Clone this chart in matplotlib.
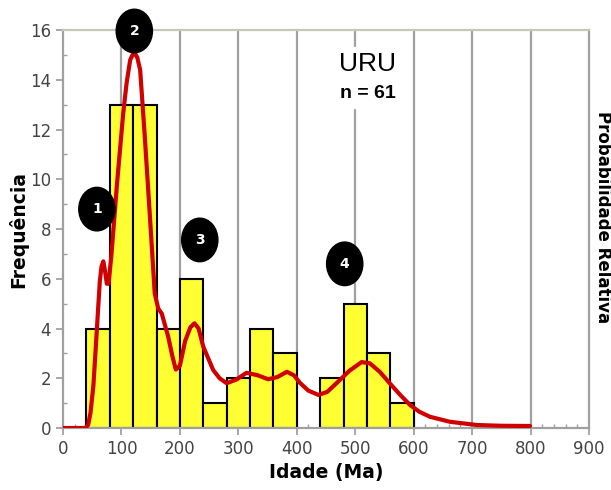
import matplotlib.pyplot as plt
import matplotlib.patches as patches
from matplotlib.ticker import MultipleLocator

plt.rcParams['font.family'] = ['DejaVu Sans']

# histograma (bins de 40 Ma)
bin_left = [40, 80, 120, 160, 200, 240, 280, 320, 360, 440, 480, 520, 560]
freq = [4, 13, 13, 4, 6, 1, 2, 4, 3, 2, 5, 3, 1]
bin_width = 40

# curva de probabilidade relativa (em escala de frequência)
curve_x = [0, 38, 43, 47, 52, 57, 63, 66, 69, 72, 75, 78, 83, 92, 103, 109,
           115, 119, 123, 127, 132, 140, 149, 157, 163, 169, 180, 187, 193, 200,
           209, 218, 225, 232, 240, 257, 268, 280, 297, 314, 333, 351, 367, 383,
           395, 406, 420, 437, 452, 468, 490, 511, 525, 542, 559, 577, 594, 610,
           628, 662, 708, 750, 799]
curve_y = [0, 0, 0.12, 0.6, 1.7, 3.6, 5.9, 6.5, 6.7, 6.3, 5.8, 5.8, 7.0, 9.7,
           12.65, 13.9, 14.8, 15.0, 15.06, 14.9, 14.4, 11.7, 8.4, 5.4, 4.8, 4.6,
           3.67, 2.9, 2.35, 2.5, 3.5, 4.05, 4.21, 4.0, 3.27, 2.33, 2.0, 1.8, 1.95,
           2.22, 2.12, 1.96, 2.05, 2.26, 2.12, 1.8, 1.5, 1.33, 1.45, 1.8, 2.3, 2.65,
           2.6, 2.26, 1.8, 1.33, 0.92, 0.65, 0.45, 0.25, 0.12, 0.09, 0.08]

# marcadores numerados (x, y)
peak_labels = ['1', '2', '3', '4']
peak_x = [58, 122, 234, 482]
peak_y = [8.8, 15.96, 7.56, 6.6]

fig = plt.figure(figsize=(6.11, 4.90), dpi=100)
ax = fig.add_axes([63/611, 1 - 428/490, 526/611, 398/490])

grid_color = '#a0a0a0'
for xv in range(100, 900, 100):
    ax.axvline(xv, color=grid_color, lw=1.6, zorder=0)

ax.bar(bin_left, freq, width=bin_width, align='edge', color='#ffff33',
       edgecolor='black', linewidth=1.5, zorder=2)
ax.plot(curve_x, curve_y, color='#d00000', lw=3, zorder=3,
        solid_capstyle='round', solid_joinstyle='round')

for lab, px, py in zip(peak_labels, peak_x, peak_y):
    e = patches.Ellipse((px, py), 62, 1.75, color='black', zorder=5, clip_on=False)
    ax.add_patch(e)
    ax.text(px, py, lab, color='white', fontsize=10, fontweight='bold',
            ha='center', va='center', zorder=6, clip_on=False)

ax.text(570, 14.63, 'URU', fontsize=19, ha='right', va='center',
        family='Liberation Sans', backgroundcolor='white', zorder=4)
ax.text(570, 13.45, 'n = 61', fontsize=14, fontweight='bold', ha='right',
        va='center', family='Liberation Sans', backgroundcolor='white', zorder=4)

ax.set_xlim(0, 900)
ax.set_ylim(0, 16)
ax.xaxis.set_major_locator(MultipleLocator(100))
ax.xaxis.set_minor_locator(MultipleLocator(20))
ax.yaxis.set_major_locator(MultipleLocator(2))
ax.yaxis.set_minor_locator(MultipleLocator(1))
ax.tick_params(which='major', direction='out', length=5, width=1.3,
               color=grid_color, labelsize=12, labelcolor='#444444')
ax.tick_params(which='minor', direction='in', length=3, width=1,
               color=grid_color)
for s in ax.spines.values():
    s.set_color(grid_color)
    s.set_linewidth(1.6)
ax.spines['top'].set_color('#c8c8b8')

ax.set_xlabel('Idade (Ma)', fontsize=13.5, fontweight='bold', labelpad=4)
ax.set_ylabel('Frequência', fontsize=13.5, fontweight='bold', labelpad=1)
fig.text(594/611, 1 - 217/490, 'Probabilidade Relativa', rotation=-90,
         fontsize=12, fontweight='bold', ha='left', va='center')

fig.savefig('out.png', dpi=100)
